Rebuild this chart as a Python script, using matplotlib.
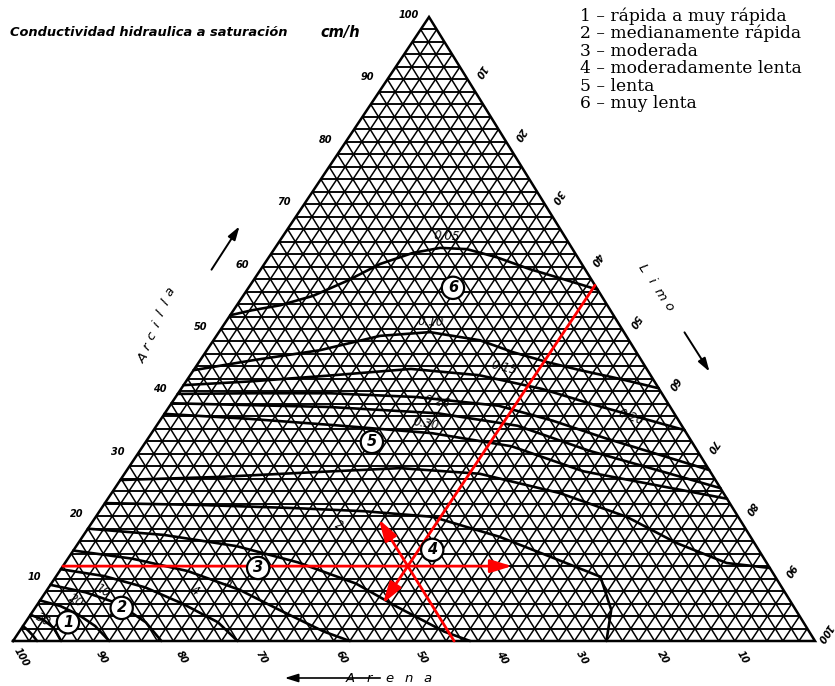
import numpy as np
import matplotlib
matplotlib.use("Agg")
import matplotlib.pyplot as plt
from matplotlib.transforms import Affine2D
from matplotlib.collections import LineCollection
from matplotlib.patches import FancyArrowPatch

# ---------------------------------------------------------------- data
# Saturated hydraulic conductivity isolines (cm/h); points as (silt %, clay %)
k005_silt = [0, 2.3, 5.4, 8.7, 11.7, 14.4, 17.6, 20.6, 24.0, 28.4, 33.5, 38.5, 43.7]
k005_clay = [52.2, 53.0, 53.8, 55.3, 57.7, 60.4, 62.2, 63.0, 62.8, 61.5, 59.6, 58.0, 56.3]

k010_silt = [0, 6.6, 14.1, 20.4, 26.3, 33.2, 38.3, 43.4, 48.2, 53.9, 59.5]
k010_clay = [43.4, 45.0, 46.6, 48.9, 49.5, 48.2, 46.3, 44.7, 43.4, 42.0, 40.5]

k015_silt = [0, 8, 17, 27, 36, 45, 53, 66.2]
k015_clay = [41.0, 41.6, 42.5, 43.6, 42.6, 40.4, 37.8, 33.8]

k020_silt = [0, 9, 19, 30, 41, 49, 57, 72.6]
k020_clay = [39.6, 39.7, 39.7, 39.1, 37.7, 35.3, 32.5, 27.4]

k026_silt = [0, 10, 20, 34, 45, 56, 75.5]
k026_clay = [38.1, 37.8, 37.5, 36.5, 34.5, 30.5, 24.5]

k030_silt = [0, 11, 22, 35, 46, 57, 77.2]
k030_clay = [36.4, 35.6, 34.6, 33.3, 31.2, 27.2, 22.8]

k05_silt = [0, 12.2, 24.2, 33.9, 44.3, 55.9, 66.2, 74.6, 82.5, 88.3]
k05_clay = [25.8, 26.3, 27.1, 27.7, 26.8, 23.7, 19.9, 15.7, 12.5, 11.7]

k1_silt = [0, 12, 24, 33, 42, 52, 60, 67.9, 72, 74]
k1_clay = [22.1, 21.8, 21.3, 20.8, 19.9, 16.7, 13.5, 10.3, 5.0, 0.0]

k2_silt = [0, 10, 20, 29, 38, 45, 53, 57]
k2_clay = [18.0, 17.0, 15.2, 12.6, 9.2, 5.5, 1.5, 0.0]

k3_silt = [0, 8, 16, 24, 31, 38, 42]
k3_clay = [14.5, 13.2, 11.2, 8.2, 4.8, 1.5, 0.0]

k4_silt = [0, 6, 12, 18, 24, 28]
k4_clay = [11.5, 10.4, 8.6, 6.0, 3.0, 0.0]

k5_silt = [0, 5, 10, 15, 18.5]
k5_clay = [9.0, 7.8, 6.0, 3.0, 0.0]

k10_silt = [0, 3, 6, 9, 12]
k10_clay = [6.5, 5.6, 4.2, 2.4, 0.0]

k20_silt = [0, 2, 4, 6]
k20_clay = [4.2, 3.4, 2.1, 0.0]

k30_silt = [0, 1, 2, 3]
k30_clay = [2.4, 1.7, 0.9, 0.0]

# conductivity classes: circle marker position (silt %, clay %)
class_ids = ["1", "2", "3", "4", "5", "6"]
class_silt = [5.3, 10.8, 24.5, 44.7, 28.2, 25.5]
class_clay = [3.0, 5.3, 11.7, 14.6, 31.9, 56.6]
class_names = ["rápida a muy rápida", "medianamente rápida", "moderada",
               "moderadamente lenta", "lenta", "muy lenta"]

# worked example: sand 45 %, silt 43 %, clay 12 %
ex_sand, ex_silt, ex_clay = 45, 43, 12

tick_values = [10, 20, 30, 40, 50, 60, 70, 80, 90, 100]

# ---------------------------------------------------------------- canvas
W, H = 835, 686
fig = plt.figure(figsize=(W / 100, H / 100), dpi=100)
ax = fig.add_axes([0, 0, 1, 1])
ax.set_xlim(0, W)
ax.set_ylim(H, 0)
ax.axis("off")

# corners of the triangle on the canvas
LEFT = (13.0, 641.0)
RIGHT = (815.0, 641.0)
TOP = (429.0, 17.0)

# (silt %, clay %) -> canvas coordinates
tern = Affine2D.from_values((RIGHT[0] - LEFT[0]) / 100, (RIGHT[1] - LEFT[1]) / 100,
                            (TOP[0] - LEFT[0]) / 100, (TOP[1] - LEFT[1]) / 100,
                            LEFT[0], LEFT[1])
T = tern + ax.transData


def to_canvas(silt, clay):
    return tern.transform(np.column_stack([np.atleast_1d(silt), np.atleast_1d(clay)]))


# ---------------------------------------------------------------- grid
segs_h, segs_d = [], []
for v in range(2, 100, 2):
    segs_h.append([(0, v), (100 - v, v)])          # clay constant
    segs_d.append([(v, 0), (v, 100 - v)])          # silt constant
    segs_d.append([(100 - v, 0), (0, 100 - v)])    # sand constant
ax.add_collection(LineCollection(segs_h, colors="black", linewidths=1.35, transform=T))
ax.add_collection(LineCollection(segs_d, colors="black", linewidths=1.1, transform=T))
ax.plot([0, 100, 0, 0], [0, 0, 100, 0], color="black", lw=1.8, transform=T,
        solid_joinstyle="miter")

# ---------------------------------------------------------------- isolines
curves = [(k005_silt, k005_clay), (k010_silt, k010_clay), (k015_silt, k015_clay),
          (k020_silt, k020_clay), (k026_silt, k026_clay), (k030_silt, k030_clay),
          (k05_silt, k05_clay), (k1_silt, k1_clay), (k2_silt, k2_clay),
          (k3_silt, k3_clay), (k4_silt, k4_clay), (k5_silt, k5_clay),
          (k10_silt, k10_clay), (k20_silt, k20_clay), (k30_silt, k30_clay)]
for s, c in curves:
    ax.plot(s, c, color="black", lw=1.9, transform=T, solid_capstyle="round")

# isoline labels (silt %, clay %, rotation)
lab_font = dict(fontsize=8.5, fontstyle="italic", color="black", ha="center", va="center")
label_pos = {"0.05": (20.5, 64.8, -3), "0.10": (25.5, 51.2, -2), "0.15": (38.5, 43.8, -14),
             "0.20": (58.5, 35.8, -20), "0.26": (33.0, 38.3, -10), "0.30": (33.5, 34.8, -10),
             "1": (43.0, 21.3, -20), "2": (31.0, 18.5, -25), "4": (18.5, 8.0, -30),
             "5": (22.0, 9.4, -25), "10": (7.0, 8.0, -30), "20": (4.5, 6.5, -30),
             "30": (2.0, 3.4, -30)}
for name, (s, c, rot) in label_pos.items():
    ax.text(s, c, name, rotation=rot, transform=T, **lab_font)

# class circles
for cid, s, c in zip(class_ids, class_silt, class_clay):
    ax.text(s, c, cid, transform=T, fontsize=10.5, fontweight="bold", fontstyle="italic",
            ha="center", va="center", zorder=6,
            bbox=dict(boxstyle="circle,pad=0.25", fc="white", ec="black", lw=1.6))

# ---------------------------------------------------------------- worked example
red = "#ff0000"
arrow_kw = dict(arrowstyle="-|>,head_length=13,head_width=4", color=red, lw=2.0,
                mutation_scale=1, transform=T, zorder=5, shrinkA=0, shrinkB=0)
# clay line (from left side, to the right)
ax.add_patch(FancyArrowPatch((0, ex_clay), (56, ex_clay), **arrow_kw))
# sand line (from base, up-left)
ax.add_patch(FancyArrowPatch((100 - ex_sand, 0), (35.5, 100 - ex_sand - 35.5), **arrow_kw))
# silt line (from right side, down-left)
ax.add_patch(FancyArrowPatch((ex_silt, 100 - ex_silt), (ex_silt, 6), **arrow_kw))

# ---------------------------------------------------------------- tick labels
tick_font = dict(fontsize=7, fontweight="bold", fontstyle="italic", ha="center", va="center")
for v in tick_values:
    # clay (left side)
    x, y = to_canvas(0, v)[0]
    ax.text(x - 20, y - 2, str(v), **tick_font)
    # silt (right side)
    x, y = to_canvas(v, 100 - v)[0]
    if v == 100:
        x -= 4
    ax.text(x + 13, y - 8, str(v), rotation=-124, **tick_font)
    # sand (base)
    x, y = to_canvas(100 - v, 0)[0]
    ax.text(x + 8, y + 16, str(v), rotation=-60, **tick_font)

# ---------------------------------------------------------------- axis names
def spaced(word, x0, y0, dx, dy, rot):
    for i, ch in enumerate(word):
        ax.text(x0 + i * dx, y0 + i * dy, ch, rotation=rot, fontsize=9.5,
                fontstyle="italic", ha="center", va="center")


spaced("Arcilla", 143, 358, 4.5, -11.0, 56)
ax.annotate("", xy=(241, 224), xytext=(210, 272),
            arrowprops=dict(arrowstyle="-|>,head_length=0.8,head_width=0.25", color="black", lw=1.4))
spaced("Limo", 643, 268, 8.5, 13.0, -57)
ax.annotate("", xy=(711, 374), xytext=(683, 330),
            arrowprops=dict(arrowstyle="-|>,head_length=0.8,head_width=0.25", color="black", lw=1.4))
spaced("Arena", 350, 679, 19.5, 0, 0)
ax.annotate("", xy=(282, 678), xytext=(383, 678),
            arrowprops=dict(arrowstyle="-|>,head_length=0.8,head_width=0.25", color="black", lw=1.2))

# ---------------------------------------------------------------- title and legend
ax.text(10, 33, "Conductividad hidraulica a saturación", fontsize=9.4, fontweight="bold",
        fontstyle="italic", ha="left", va="center")
ax.text(320, 33, "cm/h", fontsize=10.5, fontweight="bold", fontstyle="italic",
        ha="left", va="center")
for i, (cid, name) in enumerate(zip(class_ids, class_names)):
    ax.text(580, 16 + i * 17.6, f"{cid} – {name}", fontsize=12.3, family="DejaVu Serif",
            ha="left", va="center")

fig.savefig("out.png", dpi=100)
